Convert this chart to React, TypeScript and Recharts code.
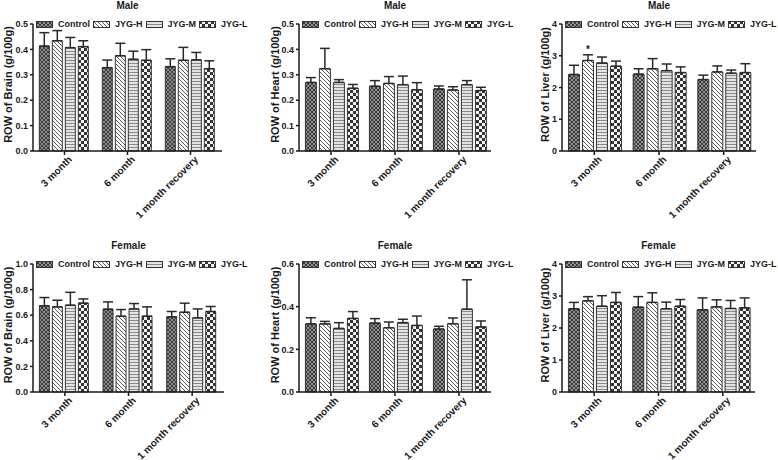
import { Bar, BarChart, ErrorBar, LabelList, XAxis, YAxis } from "recharts";

const categories = ["3 month", "6 month", "1 month recovery"];
const groups = ["Control", "JYG-H", "JYG-M", "JYG-L"];
const patternIds = ["patCtrl", "patHigh", "patMid", "patLow"];

// values per group (Control, JYG-H, JYG-M, JYG-L), one entry per category
const maleBrainMean = [
  [0.413, 0.328, 0.332],
  [0.434, 0.375, 0.357],
  [0.407, 0.361, 0.359],
  [0.411, 0.357, 0.324],
];
const maleBrainErr = [
  [0.053, 0.03, 0.031],
  [0.04, 0.049, 0.051],
  [0.04, 0.032, 0.029],
  [0.023, 0.042, 0.031],
];

const maleHeartMean = [
  [0.27, 0.255, 0.244],
  [0.324, 0.266, 0.24],
  [0.27, 0.261, 0.261],
  [0.247, 0.241, 0.238],
];
const maleHeartErr = [
  [0.019, 0.022, 0.012],
  [0.08, 0.027, 0.013],
  [0.011, 0.034, 0.016],
  [0.015, 0.028, 0.013],
];

const maleLiverMean = [
  [2.41, 2.42, 2.25],
  [2.85, 2.59, 2.49],
  [2.77, 2.53, 2.45],
  [2.67, 2.47, 2.47],
];
const maleLiverErr = [
  [0.29, 0.17, 0.14],
  [0.18, 0.32, 0.19],
  [0.19, 0.21, 0.1],
  [0.16, 0.18, 0.28],
];
const maleLiverSig = [
  ["", "", ""],
  ["*", "", ""],
  ["", "", ""],
  ["", "", ""],
];

const femaleBrainMean = [
  [0.673, 0.647, 0.587],
  [0.665, 0.592, 0.623],
  [0.678, 0.649, 0.579],
  [0.694, 0.592, 0.629],
];
const femaleBrainErr = [
  [0.065, 0.057, 0.042],
  [0.052, 0.052, 0.071],
  [0.101, 0.042, 0.07],
  [0.033, 0.073, 0.039],
];

const femaleHeartMean = [
  [0.319, 0.323, 0.295],
  [0.319, 0.301, 0.32],
  [0.298, 0.325, 0.388],
  [0.345, 0.312, 0.305],
];
const femaleHeartErr = [
  [0.029, 0.021, 0.013],
  [0.012, 0.027, 0.027],
  [0.027, 0.016, 0.138],
  [0.032, 0.044, 0.028],
];

const femaleLiverMean = [
  [2.6, 2.65, 2.57],
  [2.85, 2.8, 2.66],
  [2.68, 2.6, 2.61],
  [2.8, 2.68, 2.63],
];
const femaleLiverErr = [
  [0.2, 0.33, 0.37],
  [0.13, 0.3, 0.22],
  [0.33, 0.21, 0.25],
  [0.31, 0.21, 0.31],
];

const brainTicksMale = [0, 0.1, 0.2, 0.3, 0.4, 0.5];
const heartTicksMale = [0, 0.1, 0.2, 0.3, 0.4, 0.5];
const liverTicks = [0, 1, 2, 3, 4];
const brainTicksFemale = [0, 0.2, 0.4, 0.6, 0.8, 1.0];
const heartTicksFemale = [0, 0.2, 0.4, 0.6];

const FONT = "'Liberation Sans', Arial, Helvetica, sans-serif";
const INK = "#1a1a1a";
const W = 260;
const H = 230;

interface PanelCfg {
  title: string;
  ylabel: string;
  left: number;
  top: number;
  plotL: number;
  plotR: number;
  plotT: number;
  plotB: number;
  labelX: number;
  ticks: number[];
  digits: number;
  means: number[][];
  errs: number[][];
  sig?: string[][];
}

const panels: PanelCfg[] = [
  { title: "Male", ylabel: "ROW of Brain (g/100g)", left: 0, top: 0, plotL: 33, plotR: 222, plotT: 24, plotB: 151, labelX: 8, ticks: brainTicksMale, digits: 1, means: maleBrainMean, errs: maleBrainErr },
  { title: "Male", ylabel: "ROW of Heart (g/100g)", left: 260, top: 0, plotL: 299, plotR: 491, plotT: 24, plotB: 151, labelX: 275, ticks: heartTicksMale, digits: 1, means: maleHeartMean, errs: maleHeartErr },
  { title: "Male", ylabel: "ROW of Liver (g/100g)", left: 518, top: 0, plotL: 562, plotR: 756, plotT: 24, plotB: 151, labelX: 545, ticks: liverTicks, digits: 0, means: maleLiverMean, errs: maleLiverErr, sig: maleLiverSig },
  { title: "Female", ylabel: "ROW of Brain (g/100g)", left: 0, top: 230, plotL: 33, plotR: 224, plotT: 264, plotB: 392, labelX: 8, ticks: brainTicksFemale, digits: 1, means: femaleBrainMean, errs: femaleBrainErr },
  { title: "Female", ylabel: "ROW of Heart (g/100g)", left: 260, top: 230, plotL: 299, plotR: 491, plotT: 264, plotB: 392, labelX: 275, ticks: heartTicksFemale, digits: 1, means: femaleHeartMean, errs: femaleHeartErr },
  { title: "Female", ylabel: "ROW of Liver (g/100g)", left: 518, top: 230, plotL: 562, plotR: 755, plotT: 264, plotB: 392, labelX: 545, ticks: liverTicks, digits: 0, means: femaleLiverMean, errs: femaleLiverErr },
];

function buildRows(means: number[][], errs: number[][], sig?: string[][]) {
  return categories.map((name, i) => {
    const row: any = { name };
    groups.forEach((_, g) => {
      row[`v${g}`] = means[g][i];
      row[`e${g}`] = [0, errs[g][i]];
      row[`s${g}`] = sig ? sig[g][i] : "";
    });
    return row;
  });
}

const XTick = ({ x, y, payload }: any) => (
  <g transform={`translate(${x + 3},${y - 2}) rotate(-45)`}>
    <text x={0} y={0} dy="0.72em" textAnchor="end" fontFamily={FONT} fontWeight="bold" fontSize={10} fill={INK}>
      {payload.value}
    </text>
  </g>
);

const YLabel = ({ caption, lx, ly }: any) => (
  <g transform={`translate(${lx},${ly}) rotate(-90)`}>
    <text
      x={0}
      y={0}
      textAnchor="middle"
      dominantBaseline="central"
      fontFamily={FONT}
      fontWeight="bold"
      fontSize={11}
      fill={INK}
    >
      {caption}
    </text>
  </g>
);

function Swatch({ id }: { id: string }) {
  return (
    <svg width={17} height={7} style={{ display: "block", marginRight: 5 }}>
      <rect x={0.5} y={0.5} width={16} height={6} fill={`url(#${id})`} stroke="#333" strokeWidth={1} />
    </svg>
  );
}

function Panel({ cfg }: { cfg: PanelCfg }) {
  const rows = buildRows(cfg.means, cfg.errs, cfg.sig);
  const yW = cfg.plotL - cfg.left;
  const mTop = cfg.plotT - cfg.top;
  const mRight = W - (cfg.plotR - cfg.left);
  const xH = H - (cfg.plotB - cfg.top);
  const midY = (cfg.plotT + cfg.plotB) / 2 - cfg.top - 3;

  return (
    <div style={{ position: "absolute", left: cfg.left, top: cfg.top, width: W, height: H }}>
      <BarChart
        width={W}
        height={H}
        data={rows}
        margin={{ top: mTop, right: mRight, bottom: 0, left: 0 }}
        barCategoryGap="10%"
        barGap={3}
      >
        <XAxis
          dataKey="name"
          height={xH}
          interval={0}
          tick={<XTick />}
          tickSize={4}
          stroke={INK}
          strokeWidth={1.5}
        />
        <YAxis
          width={yW}
          domain={[0, cfg.ticks[cfg.ticks.length - 1]]}
          ticks={cfg.ticks}
          interval={0}
          tickFormatter={(v: number) => v.toFixed(cfg.digits)}
          tickSize={3}
          tickMargin={2}
          stroke={INK}
          strokeWidth={1.5}
          tick={{ fontFamily: FONT, fontWeight: "bold", fontSize: 9, fill: INK }}
          label={<YLabel caption={cfg.ylabel} lx={cfg.labelX - cfg.left} ly={midY} />}
        />
        {groups.map((g, gi) => (
          <Bar
            key={g}
            dataKey={`v${gi}`}
            name={g}
            fill={`url(#${patternIds[gi]})`}
            stroke="#333"
            strokeWidth={1}
            isAnimationActive={false}
          >
            <ErrorBar
              dataKey={`e${gi}`}
              direction="y"
              width={5}
              stroke="#2a2a2a"
              strokeWidth={1.5}
              isAnimationActive={false}
            />
            {cfg.sig && (
              <LabelList
                dataKey={`s${gi}`}
                content={(p: any) => {
                  if (!p.value) return null;
                  const idx = p.index;
                  const val = cfg.means[gi][idx];
                  const err = cfg.errs[gi][idx];
                  const perUnit = p.height / val;
                  const topY = p.y - err * perUnit;
                  return (
                    <text
                      x={p.x + p.width / 2}
                      y={topY - 2}
                      textAnchor="middle"
                      fontFamily={FONT}
                      fontWeight="bold"
                      fontSize={10}
                      fill={INK}
                    >
                      {p.value}
                    </text>
                  );
                }}
              />
            )}
          </Bar>
        ))}
      </BarChart>

      <div
        style={{
          position: "absolute",
          left: cfg.plotL - cfg.left,
          width: cfg.plotR - cfg.plotL,
          top: cfg.plotT - cfg.top - 24,
          height: 12,
          lineHeight: "12px",
          textAlign: "center",
          fontFamily: FONT,
          fontWeight: "bold",
          fontSize: 10,
          color: INK,
        }}
      >
        {cfg.title}
      </div>

      <div
        style={{
          position: "absolute",
          left: cfg.plotL - cfg.left + 3,
          top: cfg.plotT - cfg.top - 5,
          display: "flex",
          alignItems: "center",
          fontFamily: FONT,
          fontWeight: "bold",
          fontSize: 9,
          lineHeight: "10px",
          color: INK,
          whiteSpace: "nowrap",
          background: "#fff",
        }}
      >
        {groups.map((g, gi) => (
          <div key={g} style={{ display: "flex", alignItems: "center", marginRight: 3 }}>
            <Swatch id={patternIds[gi]} />
            <span>{g}</span>
          </div>
        ))}
      </div>
    </div>
  );
}

export default function App() {
  return (
    <div
      style={{
        position: "absolute",
        left: 0,
        top: 0,
        width: 778,
        height: 460,
        background: "#fff",
        overflow: "hidden",
      }}
    >
      <svg width={0} height={0} style={{ position: "absolute" }}>
        <defs>
          <pattern id="patCtrl" width={4} height={4} patternUnits="userSpaceOnUse">
            <rect width={4} height={4} fill="#8e8e8e" />
            <path d="M0,0 L4,4 M4,0 L0,4" stroke="#3c3c3c" strokeWidth={1} />
          </pattern>
          <pattern id="patHigh" width={4} height={4} patternUnits="userSpaceOnUse">
            <rect width={4} height={4} fill="#ffffff" />
            <path d="M0,0 L4,4 M-1,3 L1,5 M3,-1 L5,1" stroke="#5a5a5a" strokeWidth={1} />
          </pattern>
          <pattern id="patMid" width={4} height={3} patternUnits="userSpaceOnUse">
            <rect width={4} height={3} fill="#e4e4e4" />
            <rect y={0} width={4} height={1} fill="#8a8a8a" />
          </pattern>
          <pattern id="patLow" width={6} height={6} patternUnits="userSpaceOnUse">
            <rect width={6} height={6} fill="#f4f4f4" />
            <rect x={0} y={0} width={3} height={3} fill="#333" />
            <rect x={3} y={3} width={3} height={3} fill="#333" />
          </pattern>
        </defs>
      </svg>
      {panels.map((p, i) => (
        <Panel key={i} cfg={p} />
      ))}
    </div>
  );
}
